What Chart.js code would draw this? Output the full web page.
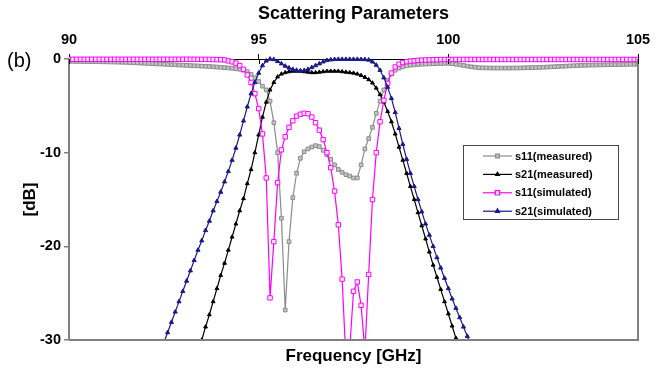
<!DOCTYPE html>
<html>
<head>
<meta charset="utf-8">
<script src="https://cdn.jsdelivr.net/npm/chart.js@4.4.1/dist/chart.umd.min.js"></script>
<style>
  html, body { margin: 0; padding: 0; background: #fff; }
  #c { display: block; }
</style>
</head>
<body>
<canvas id="c" width="667" height="371"></canvas>
<script>
// frequency points, GHz
const freqGHz = [
  90.0, 90.1, 90.2, 90.3, 90.4, 90.5, 90.6, 90.7, 90.8, 90.9,
  91.0, 91.1, 91.2, 91.3, 91.4, 91.5, 91.6, 91.7, 91.8, 91.9,
  92.0, 92.1, 92.2, 92.3, 92.4, 92.5, 92.6, 92.7, 92.8, 92.9,
  93.0, 93.1, 93.2, 93.3, 93.4, 93.5, 93.6, 93.7, 93.8, 93.9,
  94.0, 94.1, 94.2, 94.3, 94.4, 94.5, 94.6, 94.7, 94.8, 94.9,
  95.0, 95.1, 95.2, 95.3, 95.4, 95.5, 95.6, 95.7, 95.8, 95.9,
  96.0, 96.1, 96.2, 96.3, 96.4, 96.5, 96.6, 96.7, 96.8, 96.9,
  97.0, 97.1, 97.2, 97.3, 97.4, 97.5, 97.6, 97.7, 97.8, 97.9,
  98.0, 98.1, 98.2, 98.3, 98.4, 98.5, 98.6, 98.7, 98.8, 98.9,
  99.0, 99.1, 99.2, 99.3, 99.4, 99.5, 99.6, 99.7, 99.8, 99.9,
  100.0, 100.1, 100.2, 100.3, 100.4, 100.5, 100.6, 100.7, 100.8, 100.9,
  101.0, 101.1, 101.2, 101.3, 101.4, 101.5, 101.6, 101.7, 101.8, 101.9,
  102.0, 102.1, 102.2, 102.3, 102.4, 102.5, 102.6, 102.7, 102.8, 102.9,
  103.0, 103.1, 103.2, 103.3, 103.4, 103.5, 103.6, 103.7, 103.8, 103.9,
  104.0, 104.1, 104.2, 104.3, 104.4, 104.5, 104.6, 104.7, 104.8, 104.9,
  105.0
];

// dB values (null = below the visible range)
const s11Measured = [
  -0.25, -0.25, -0.26, -0.26, -0.27, -0.27, -0.28, -0.28, -0.29, -0.30,
  -0.31, -0.32, -0.33, -0.34, -0.35, -0.36, -0.38, -0.40, -0.42, -0.44,
  -0.46, -0.48, -0.50, -0.52, -0.54, -0.56, -0.58, -0.60, -0.62, -0.64,
  -0.66, -0.68, -0.70, -0.72, -0.74, -0.76, -0.78, -0.80, -0.83, -0.86,
  -0.89, -0.92, -0.95, -0.99, -1.04, -1.10, -1.20, -1.35, -1.65, -2.00,
  -2.40, -2.90, -3.30, -4.50, -6.80, -10.0, -17.0, -26.8, -19.5, -14.8,
  -12.2, -10.6, -9.9, -9.6, -9.4, -9.25, -9.35, -9.75, -10.2, -10.7,
  -11.3, -11.8, -12.1, -12.35, -12.5, -12.7, -12.7, -11.3, -9.6, -8.5,
  -7.3, -5.8, -4.5, -3.3, -2.3, -1.6, -1.2, -0.98, -0.82, -0.72,
  -0.66, -0.62, -0.59, -0.56, -0.54, -0.52, -0.50, -0.49, -0.48, -0.47,
  -0.46, -0.50, -0.56, -0.62, -0.69, -0.76, -0.83, -0.88, -0.92, -0.94,
  -0.95, -0.96, -0.97, -0.97, -0.97, -0.97, -0.97, -0.96, -0.96, -0.95,
  -0.94, -0.93, -0.92, -0.91, -0.90, -0.88, -0.86, -0.84, -0.82, -0.80,
  -0.78, -0.76, -0.74, -0.72, -0.70, -0.68, -0.67, -0.66, -0.65, -0.64,
  -0.63, -0.62, -0.61, -0.60, -0.60, -0.59, -0.58, -0.58, -0.57, -0.57,
  -0.56
];

const s21Measured = [
  null, null, null, null, null, null, null, null, null, null,
  null, null, null, null, null, null, null, null, null, null,
  null, null, null, null, null, null, null, null, null, null,
  -36.9, -35.5, -34.1, -32.8, -31.4, -30.0, -28.6, -27.3, -25.9, -24.5,
  -23.1, -21.8, -20.4, -19.0, -17.6, -16.2, -14.9, -13.3, -11.8, -10.0,
  -8.1, -6.2, -4.6, -3.3, -2.5, -1.9, -1.6, -1.45, -1.35, -1.3,
  -1.3, -1.3, -1.35, -1.4, -1.45, -1.45, -1.4, -1.35, -1.3, -1.3,
  -1.3, -1.3, -1.35, -1.4, -1.45, -1.5, -1.6, -1.75, -1.95, -2.2,
  -2.55, -3.1, -3.8, -4.6, -5.6, -6.7, -8.0, -9.4, -10.8, -12.2,
  -13.6, -15.0, -16.4, -17.8, -19.2, -20.6, -22.0, -23.3, -24.6, -25.9,
  -27.2, -28.5, -29.8, -31.1, -32.4, null, null, null, null, null,
  null, null, null, null, null, null, null, null, null, null,
  null, null, null, null, null, null, null, null, null, null,
  null, null, null, null, null, null, null, null, null, null,
  null, null, null, null, null, null, null, null, null, null,
  null
];

const s11Simulated = [
  -0.03, -0.03, -0.03, -0.03, -0.03, -0.03, -0.03, -0.03, -0.03, -0.03,
  -0.03, -0.03, -0.03, -0.03, -0.03, -0.03, -0.03, -0.03, -0.03, -0.03,
  -0.03, -0.03, -0.03, -0.03, -0.03, -0.03, -0.03, -0.03, -0.03, -0.03,
  -0.03, -0.03, -0.03, -0.03, -0.04, -0.04, -0.04, -0.05, -0.05, -0.06,
  -0.07, -0.10, -0.20, -0.30, -0.45, -0.70, -1.10, -1.70, -2.50, -3.70,
  -5.3, -8.0, -12.7, -25.5, -19.5, -13.2, -9.7, -8.3, -7.3, -6.6,
  -6.1, -5.9, -5.8, -5.85, -6.2, -6.8, -7.6, -8.6, -10.0, -11.6,
  -14.1, -17.7, -23.5, -32.0, -31.0, -24.8, -23.8, -26.3, -31.2, -23.0,
  -15.0, -10.0, -6.7, -4.4, -2.6, -1.5, -0.85, -0.55, -0.38, -0.28,
  -0.22, -0.18, -0.15, -0.12, -0.10, -0.09, -0.08, -0.07, -0.06, -0.06,
  -0.05, -0.05, -0.05, -0.05, -0.05, -0.05, -0.05, -0.05, -0.05, -0.05,
  -0.05, -0.05, -0.05, -0.05, -0.05, -0.05, -0.05, -0.05, -0.05, -0.05,
  -0.05, -0.05, -0.05, -0.05, -0.05, -0.05, -0.05, -0.05, -0.05, -0.05,
  -0.05, -0.05, -0.05, -0.05, -0.05, -0.05, -0.05, -0.05, -0.05, -0.05,
  -0.05, -0.05, -0.05, -0.05, -0.05, -0.05, -0.05, -0.05, -0.05, -0.05,
  -0.05
];

const s21Simulated = [
  null, null, null, null, null, null, null, null, null, null,
  null, null, null, null, null, null, null, null, null, null,
  -35.5, -34.5, -33.4, -32.3, -31.3, -30.3, -29.2, -28.1, -27.0, -25.9,
  -24.8, -23.7, -22.6, -21.5, -20.4, -19.4, -18.3, -17.3, -16.2, -15.2,
  -14.2, -13.1, -12.0, -10.8, -9.5, -8.1, -6.6, -5.1, -3.7, -2.5,
  -1.5, -0.7, -0.2, 0.0, -0.05, -0.25, -0.5, -0.75, -0.95, -1.1,
  -1.2, -1.25, -1.22, -1.1, -0.9, -0.7, -0.5, -0.3, -0.15, -0.08,
  -0.04, -0.03, -0.03, -0.03, -0.03, -0.03, -0.03, -0.04, -0.05, -0.1,
  -0.3, -0.65, -1.2, -2.0, -3.0, -4.2, -5.7, -7.4, -9.1, -10.7,
  -12.2, -13.6, -15.0, -16.3, -17.6, -18.8, -20.0, -21.2, -22.3, -23.4,
  -24.5, -25.6, -26.6, -27.6, -28.6, -29.6, -30.6, -31.6, null, null,
  null, null, null, null, null, null, null, null, null, null,
  null, null, null, null, null, null, null, null, null, null,
  null, null, null, null, null, null, null, null, null, null,
  null, null, null, null, null, null, null, null, null, null,
  null
];

const seriesNames = ['s11(measured)', 's21(measured)', 's11(simulated)', 's21(simulated)'];
const xTicks = [90, 95, 100, 105];
const yTicks = [-30, -20, -10, 0];

const FONT = "'Liberation Sans', Arial, Helvetica, sans-serif";

function points(values) {
  return freqGHz.map((f, i) => ({ x: f, y: values[i] }));
}

const common = {
  borderWidth: 1.2,
  pointBorderWidth: 1,
  tension: 0,
  clip: { left: 0, right: 0, top: 6, bottom: 0 }
};

const datasets = [
  Object.assign({}, common, {
    label: seriesNames[0], data: points(s11Measured), order: 4,
    borderColor: '#8c8c8c', backgroundColor: '#c4c4c4',
    pointStyle: 'rect', pointRadius: 2.6
  }),
  Object.assign({}, common, {
    label: seriesNames[1], data: points(s21Measured), order: 3,
    borderColor: '#000000', backgroundColor: '#000000',
    pointStyle: 'triangle', pointRadius: 2.2
  }),
  Object.assign({}, common, {
    label: seriesNames[2], data: points(s11Simulated), order: 2,
    borderColor: '#ff00ff', backgroundColor: 'rgba(255,255,255,0.85)',
    pointStyle: 'rect', pointRadius: 3.1
  }),
  Object.assign({}, common, {
    label: seriesNames[3], data: points(s21Simulated), order: 1,
    borderColor: '#1a1a8a', backgroundColor: '#1a1a8a',
    pointStyle: 'triangle', pointRadius: 2.4
  })
];

// plot frame, inner ticks, "(b)" and the boxed legend
const decorations = {
  id: 'decorations',
  afterDraw(chart) {
    const ctx = chart.ctx;
    const a = chart.chartArea;
    const xs = chart.scales.x;
    ctx.save();

    ctx.strokeStyle = '#808080';
    ctx.lineWidth = 2;
    ctx.beginPath();
    ctx.moveTo(a.left, a.bottom);
    ctx.lineTo(a.right, a.bottom);
    ctx.lineTo(a.right, a.top);
    ctx.stroke();

    ctx.strokeStyle = '#000';
    ctx.lineWidth = 1;
    ctx.beginPath();
    xTicks.forEach(v => {
      const px = Math.round(xs.getPixelForValue(v)) + 0.5;
      ctx.moveTo(px, a.top);
      ctx.lineTo(px, a.top + 5);
    });
    ctx.stroke();

    ctx.fillStyle = '#000';
    ctx.font = '20px ' + FONT;
    ctx.textAlign = 'left';
    ctx.textBaseline = 'middle';
    ctx.fillText('(b)', 7, a.top + 2);

    // legend
    const bx = a.left + 394, by = a.top + 86, bw = 155, bh = 74;
    ctx.fillStyle = '#fff';
    ctx.fillRect(bx, by, bw, bh);
    ctx.strokeStyle = '#4a4a4a';
    ctx.lineWidth = 1;
    ctx.strokeRect(bx + 0.5, by + 0.5, bw, bh);
    ctx.font = 'bold 11px ' + FONT;
    datasets.forEach((ds, i) => {
      const y = by + 11 + i * 18.4;
      ctx.strokeStyle = ds.borderColor;
      ctx.lineWidth = 1.2;
      ctx.beginPath();
      ctx.moveTo(bx + 20, y);
      ctx.lineTo(bx + 49, y);
      ctx.stroke();
      ctx.fillStyle = ds.backgroundColor;
      Chart.helpers.drawPoint(ctx, {
        pointStyle: ds.pointStyle, radius: ds.pointRadius, rotation: 0, borderWidth: 1
      }, bx + 34.5, y);
      ctx.fillStyle = '#000';
      ctx.fillText(ds.label, bx + 52, y + 0.5);
    });
    ctx.restore();
  }
};

new Chart(document.getElementById('c'), {
  type: 'line',
  data: { datasets: datasets },
  plugins: [decorations],
  options: {
    responsive: false,
    animation: false,
    devicePixelRatio: 1,
    layout: { padding: { left: 0, right: 29, top: 0, bottom: 1.6 } },
    plugins: {
      legend: { display: false },
      tooltip: { enabled: false },
      title: {
        display: true, text: 'Scattering Parameters', fullSize: false,
        color: '#000', font: { family: FONT, size: 18, weight: 'bold', lineHeight: 1.2 },
        padding: { top: 3, bottom: 2 }
      },
      subtitle: {
        display: true, text: 'Frequency [GHz]', position: 'bottom', fullSize: false,
        color: '#000', font: { family: FONT, size: 17, weight: 'bold', lineHeight: 1.2 },
        padding: { top: 6, bottom: 3 }
      }
    },
    scales: {
      x: {
        type: 'linear', position: 'top', min: 90, max: 105,
        afterBuildTicks: s => { s.ticks = xTicks.map(v => ({ value: v })); },
        afterFit: s => { s.height = 32.4; },
        ticks: { color: '#000', padding: 5, font: { family: FONT, size: 14.5, weight: 'bold' } },
        grid: { drawOnChartArea: false, color: '#000', tickLength: 5, lineWidth: 1 },
        border: { color: '#000', width: 1 }
      },
      y: {
        min: -30, max: 0,
        afterBuildTicks: s => { s.ticks = yTicks.map(v => ({ value: v })); },
        afterFit: s => { s.width = 69; },
        ticks: { color: '#000', padding: 3, font: { family: FONT, size: 14.5, weight: 'bold' } },
        grid: { drawOnChartArea: false, color: '#808080', tickLength: 5, lineWidth: 1.5 },
        border: { color: '#808080', width: 2 },
        title: {
          display: true, text: '[dB]', color: '#000',
          padding: { top: 20, bottom: 0 },
          font: { family: FONT, size: 17, weight: 'bold', lineHeight: 1.2 }
        }
      }
    }
  }
});
</script>
</body>
</html>
